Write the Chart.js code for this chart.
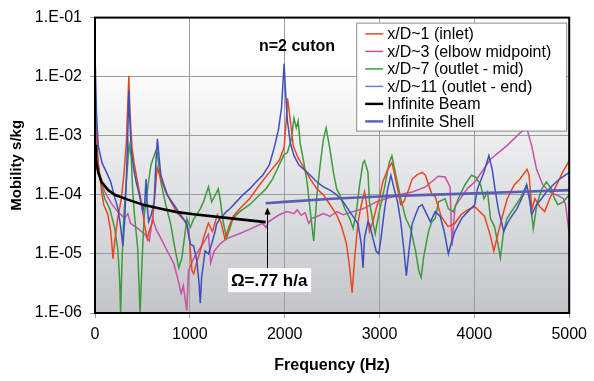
<!DOCTYPE html>
<html>
<head>
<meta charset="utf-8">
<script src="https://cdn.jsdelivr.net/npm/chart.js@4.4.1/dist/chart.umd.min.js"></script>
<style>
  html, body { margin: 0; padding: 0; background: #fff; }
  #wrap { width: 594px; height: 381px; }
</style>
</head>
<body>
<div id="wrap"><canvas id="c" width="594" height="381"></canvas></div>
<script>
// Fonts / defaults
Chart.defaults.font.family = "'Liberation Sans', Arial, sans-serif";
Chart.defaults.color = '#000';

// Axes
const xTickValues = [0, 1000, 2000, 3000, 4000, 5000];
const xTickLabels = ['0', '1000', '2000', '3000', '4000', '5000'];
const yTickValues = [1e-6, 1e-5, 1e-4, 1e-3, 1e-2, 1e-1];
const yTickLabels = ['1.E-06', '1.E-05', '1.E-04', '1.E-03', '1.E-02', '1.E-01'];

// x/D~1 (inlet)
const freqInlet = [3,21,70,92,136,166,190,208,239,278,307,330,346,357,369,390,416,468,502,520,552,570,606,634,655,694,746,801,863,936,965,998,1022,1040,1071,1110,1144,1196,1238,1290,1331,1370,1414,1456,1526,1630,1734,1838,1942,1994,2018,2030,2059,2090,2139,2202,2270,2340,2408,2478,2548,2600,2652,2683,2711,2738,2774,2808,2842,2860,2894,2930,2964,2998,3034,3086,3130,3154,3190,3224,3256,3310,3344,3398,3450,3484,3518,3554,3588,3650,3723,3796,3858,3931,4004,4108,4170,4205,4243,4295,4347,4420,4482,4555,4576,4607,4638,4690,4742,4794,4867,4930,5000];
const mobInlet = [2.9e-3,5.2e-4,1.12e-4,6.8e-5,4.6e-5,2.4e-5,8.3e-6,1.65e-5,4.0e-5,8.6e-5,2.4e-4,7.6e-4,3.5e-3,1.04e-2,2.4e-3,6.3e-4,3.2e-4,1.12e-4,5.8e-5,3.2e-5,1.8e-5,2.4e-5,3.5e-5,1.12e-4,2.9e-4,1.85e-4,1.12e-4,7.6e-5,5.0e-5,3.8e-5,3.2e-5,1.65e-5,5.2e-6,4.6e-6,7.1e-6,1.12e-5,1.85e-5,3.3e-5,2.4e-5,4.6e-5,3.3e-5,1.8e-5,2.9e-5,4.3e-5,5.8e-5,8.6e-5,1.47e-4,2.4e-4,3.8e-4,6.3e-4,2.0e-3,4.3e-3,1.85e-3,6.8e-4,4.3e-4,2.9e-4,1.85e-4,1.26e-4,1.0e-4,6.8e-5,4.6e-5,2.9e-5,1.47e-5,6.3e-6,2.2e-6,8.6e-6,3.5e-5,6.8e-5,1.12e-4,7.6e-5,2.4e-5,3.5e-5,5.8e-5,8.6e-5,1.65e-4,2.7e-4,3.5e-4,2.4e-4,1.26e-4,6.8e-5,7.6e-5,1.26e-4,1.85e-4,2.2e-4,2.4e-4,2.15e-4,1.47e-4,1.0e-4,9.3e-5,4.3e-5,2.9e-5,3.3e-5,4.6e-5,5.6e-5,6.3e-5,4.3e-5,2.0e-5,1.12e-5,2.0e-5,4.3e-5,8.6e-5,1.47e-4,1.85e-4,2.7e-4,2.2e-4,5.6e-5,8.6e-5,6.3e-5,5.2e-5,8.6e-5,1.47e-4,2.4e-4,3.8e-4];

// x/D~3 (elbow midpoint)
const freqElbow = [5,21,52,104,174,239,312,346,374,450,520,572,606,645,694,762,832,884,908,931,968,986,1038,1110,1154,1196,1220,1258,1318,1383,1508,1630,1766,1802,1830,1942,2028,2098,2132,2174,2215,2254,2288,2340,2408,2478,2548,2618,2722,2826,2964,3068,3203,3346,3484,3619,3692,3744,3765,3796,3866,3931,4004,4170,4344,4482,4551,4604,4656,4722,4794,4867,4940,4962,5000];
const mobElbow = [1.65e-3,5.2e-4,1.85e-4,1.12e-4,7.1e-5,5.2e-5,4.0e-5,4.8e-5,3.3e-5,2.7e-5,2.2e-5,1.65e-5,4.0e-5,2.6e-5,1.85e-5,1.12e-5,6.8e-6,3.2e-6,2.15e-6,2.9e-6,1.1e-6,5.2e-6,8.3e-6,1.26e-5,1.65e-5,2.15e-5,7.1e-6,1.12e-5,1.47e-5,1.8e-5,2.15e-5,2.6e-5,3.3e-5,2.8e-5,3.5e-5,4.6e-5,5.2e-5,4.8e-5,5.6e-5,4.5e-5,5.0e-5,3.3e-5,4.0e-5,4.3e-5,4.8e-5,4.3e-5,5.2e-5,4.6e-5,5.2e-5,5.8e-5,7.6e-5,8.6e-5,1.0e-4,1.12e-4,1.36e-4,2.07e-4,2.0e-4,1.36e-4,1.36e-5,6.3e-5,9.3e-5,1.3e-4,1.65e-4,4.0e-4,6.8e-4,1.12e-3,1.36e-3,6.8e-4,2.7e-4,1.47e-4,1.12e-4,1.0e-4,8.6e-5,6.8e-5,2.2e-5];

// x/D~7 (outlet - mid)
const freqOutMid = [3,34,70,104,156,208,242,260,270,284,305,330,346,359,382,398,416,450,475,502,520,554,590,642,655,694,746,798,848,884,916,952,968,1004,1038,1110,1144,1196,1230,1269,1300,1324,1345,1386,1422,1456,1526,1630,1716,1802,1872,1942,1994,2028,2070,2098,2122,2142,2163,2202,2236,2270,2306,2340,2374,2408,2437,2478,2514,2548,2582,2634,2686,2722,2756,2790,2826,2842,2878,2894,2930,2954,2998,3050,3102,3130,3172,3224,3276,3328,3380,3414,3439,3464,3516,3552,3588,3622,3692,3726,3778,3830,3900,3970,4014,4066,4101,4139,4170,4212,4243,4274,4309,4344,4410,4482,4551,4586,4621,4659,4711,4760,4812,4846,4881,4937,5000];
const mobOutMid = [2.4e-3,3.2e-4,1.36e-4,8.6e-5,5.8e-5,2.7e-5,1.12e-5,3.5e-6,1.0e-6,6.8e-6,4.6e-5,1.65e-4,3.5e-4,7.1e-4,4.3e-4,1.12e-4,4.6e-5,1.26e-5,1.0e-6,1.26e-5,4.6e-5,1.26e-4,3.2e-4,5.6e-4,5.2e-4,1.65e-4,6.8e-5,3.2e-5,1.12e-5,5.8e-6,8.6e-6,2.4e-5,4.0e-5,2.8e-5,3.8e-5,5.8e-5,7.6e-5,1.36e-4,7.6e-5,1.0e-4,1.26e-4,7.6e-5,4.0e-5,1.85e-5,2.7e-5,4.0e-5,5.2e-5,6.8e-5,9.3e-5,1.26e-4,1.85e-4,3.2e-4,4.8e-4,5.2e-4,8.6e-4,2.0e-3,1.36e-3,1.78e-3,7.6e-4,3.5e-4,1.65e-4,5.2e-5,1.65e-5,1.0e-4,3.2e-4,8.6e-4,1.36e-3,5.8e-4,2.4e-4,1.26e-4,1.0e-4,5.8e-5,4.0e-5,2.7e-5,5.2e-5,1.47e-4,3.5e-4,3.8e-4,2.4e-4,7.6e-5,3.5e-5,2.2e-5,5.2e-5,1.26e-4,3.5e-4,4.6e-4,2.15e-4,8.6e-5,4.0e-5,2.7e-5,1.12e-5,5.2e-6,4.0e-6,8.6e-6,2.4e-5,3.5e-5,4.0e-5,7.6e-5,8.6e-5,5.8e-5,5.2e-5,8.6e-5,1.47e-4,2.15e-4,2.0e-4,1.47e-4,8.6e-5,1.12e-4,4.0e-5,2.9e-5,1.65e-5,8.6e-6,2.4e-5,4.0e-5,5.8e-5,8.6e-5,1.47e-4,8.6e-5,2.7e-5,6.8e-5,1.26e-4,1.65e-4,1.26e-4,8.6e-5,6.8e-5,7.6e-5,1.0e-4];

// x/D~11 (outlet - end)
const freqOutEnd = [3,16,34,73,122,166,198,242,270,294,312,330,346,357,369,382,406,434,468,502,525,538,551,565,593,624,642,658,694,762,832,902,970,1006,1040,1074,1095,1110,1124,1161,1196,1230,1266,1282,1318,1352,1386,1422,1490,1560,1630,1698,1768,1838,1890,1934,1966,1994,2010,2028,2059,2098,2150,2202,2270,2340,2408,2478,2548,2618,2686,2735,2774,2808,2826,2842,2878,2894,2930,2964,2992,3016,3050,3086,3120,3154,3190,3224,3258,3283,3310,3344,3380,3414,3450,3484,3536,3588,3640,3682,3726,3762,3796,3866,3931,4004,4032,4101,4153,4188,4222,4257,4292,4309,4344,4378,4448,4517,4551,4586,4604,4656,4708,4760,4829,4898,5000];
const mobOutEnd = [1.65e-2,2.4e-3,6.8e-4,3.5e-4,2.4e-4,1.65e-4,1.04e-4,5.8e-5,2.9e-5,1.36e-5,3.5e-5,1.65e-4,1.12e-3,5.8e-3,1.65e-3,5.8e-4,2.9e-4,1.65e-4,1.0e-4,5.2e-5,7.6e-5,1.85e-4,6.3e-5,3.5e-5,4.6e-5,7.6e-5,3.5e-4,8.9e-4,2.15e-4,1.0e-4,6.8e-5,4.6e-5,3.2e-5,1.47e-5,1.36e-5,7.6e-6,3.5e-6,1.47e-6,4.0e-6,1.12e-5,1.0e-5,1.47e-5,2.4e-5,3.2e-5,4.0e-5,4.5e-5,5.2e-5,5.8e-5,7.6e-5,1.0e-4,1.26e-4,1.65e-4,2.15e-4,3.2e-4,6.3e-4,1.26e-3,2.9e-3,1.65e-2,5.2e-3,1.85e-3,7.6e-4,4.6e-4,3.2e-4,2.7e-4,2.15e-4,1.65e-4,1.36e-4,1.2e-4,1.0e-4,7.6e-5,5.2e-5,4.0e-5,3.2e-5,1.47e-5,5.8e-6,1.85e-5,3.5e-5,3.2e-5,1.85e-5,1.12e-5,1.0e-5,1.85e-5,5.2e-5,1.26e-4,2.15e-4,1.26e-4,7.6e-5,3.5e-5,1.12e-5,4.3e-6,1.12e-5,3.2e-5,4.6e-5,6.3e-5,6.8e-5,5.2e-5,3.5e-5,5.2e-5,4.3e-5,2.4e-5,1.0e-5,1.65e-5,2.4e-5,4.0e-5,5.2e-5,6.8e-5,1.26e-4,2.4e-4,4.6e-4,2.7e-4,1.12e-4,5.2e-5,3.2e-5,2.4e-5,3.2e-5,4.0e-5,5.8e-5,1.0e-4,1.47e-4,7.6e-5,4.6e-5,6.8e-5,8.6e-5,1.12e-4,1.47e-4,1.85e-4,2.4e-4];

// Infinite Beam
const freqBeam = [3,10,34,70,138,208,346,520,694,866,1040,1435,1800];
const mobBeam = [7.0e-4,3.8e-4,2.4e-4,1.65e-4,1.2e-4,1.0e-4,8.3e-5,6.7e-5,5.8e-5,5.1e-5,4.7e-5,4.0e-5,3.45e-5];

// Infinite Shell
const freqShell = [1800,2000,2500,3000,3500,4000,4500,5000];
const mobShell = [7.2e-5,7.6e-5,8.6e-5,9.4e-5,1.0e-4,1.06e-4,1.13e-4,1.2e-4];

// Annotations (data units)
const cutonText = 'n=2 cuton';
const cutonAt = { x: 2130, y: 3.2e-2 };
const omegaText = '\u03A9=.77 h/a';
const omegaAt = { x: 1836, y: 3.6e-6 };
const arrowFreq = 1810;
const arrowFrom = 5.6e-6;
const arrowTo = 6.1e-5;

function pts(fs, ms) {
    if (fs.length !== ms.length) console.error('length mismatch', fs.length, ms.length);
    return fs.map((f, i) => ({ x: f, y: ms[i] }));
}

const datasets = [
    { label: 'x/D~1 (inlet)', data: pts(freqInlet, mobInlet), borderColor: '#e8471f', borderWidth: 1.5, order: 3 },
    { label: 'x/D~3 (elbow midpoint)', data: pts(freqElbow, mobElbow), borderColor: '#c851a8', borderWidth: 1.5, order: 5 },
    { label: 'x/D~7 (outlet - mid)', data: pts(freqOutMid, mobOutMid), borderColor: '#3c9a3f', borderWidth: 1.5, order: 4 },
    { label: 'x/D~11 (outlet - end)', data: pts(freqOutEnd, mobOutEnd), borderColor: '#3d4fc0', borderWidth: 1.5, order: 2, legendColor: '#6f7fd6' },
    { label: 'Infinite Beam', data: pts(freqBeam, mobBeam), borderColor: '#000000', borderWidth: 2.6, order: 0 },
    { label: 'Infinite Shell', data: pts(freqShell, mobShell), borderColor: '#5a5db3', borderWidth: 2.6, order: 1 }
];
datasets.forEach(d => { d.pointRadius = 0; d.tension = 0; d.fill = false; });

// Fundo em degradê + moldura
const framePlugin = {
    id: 'frame',
    beforeDraw(chart) {
        const { ctx, chartArea: a } = chart;
        ctx.save();
        ctx.fillStyle = '#fff';
        ctx.fillRect(0, 0, chart.width, chart.height);
        const g = ctx.createLinearGradient(0, a.top, 0, a.bottom);
        g.addColorStop(0, '#ffffff');
        g.addColorStop(0.15, '#ffffff');
        g.addColorStop(1, '#c3c5c8');
        ctx.fillStyle = g;
        ctx.fillRect(a.left, a.top, a.right - a.left, a.bottom - a.top);
        ctx.restore();
    },
    afterDatasetsDraw(chart) {
        const { ctx, chartArea: a } = chart;
        ctx.save();
        ctx.strokeStyle = '#000';
        ctx.lineWidth = 2;
        ctx.strokeRect(a.left, a.top, a.right - a.left, a.bottom - a.top);
        ctx.restore();
    }
};

// Legenda e anotações
const notesPlugin = {
    id: 'notes',
    afterDraw(chart) {
        const { ctx, chartArea: a, scales: { x, y } } = chart;
        ctx.save();

        // legend box
        const lw = 210, lh = 108;
        const lx = a.right - 3 - lw, ly = a.top + 5;
        ctx.fillStyle = '#fff';
        ctx.fillRect(lx, ly, lw, lh);
        ctx.strokeStyle = '#8a8a8a';
        ctx.lineWidth = 1;
        ctx.strokeRect(lx + 0.5, ly + 0.5, lw, lh);
        ctx.font = "16px 'Liberation Sans', Arial, sans-serif";
        ctx.textBaseline = 'middle';
        ctx.textAlign = 'left';
        chart.data.datasets.forEach((d, i) => {
            const ry = ly + 11.3 + i * 17.5;
            ctx.strokeStyle = d.legendColor || d.borderColor;
            ctx.lineWidth = d.borderWidth > 2 ? 2.4 : 1.5;
            ctx.beginPath();
            ctx.moveTo(lx + 9, ry);
            ctx.lineTo(lx + 27, ry);
            ctx.stroke();
            ctx.fillStyle = '#000';
            ctx.fillText(d.label, lx + 31, ry + 1);
        });

        // n=2 cuton
        ctx.font = "bold 16px 'Liberation Sans', Arial, sans-serif";
        ctx.textAlign = 'center';
        ctx.fillStyle = '#000';
        ctx.fillText(cutonText, x.getPixelForValue(cutonAt.x), y.getPixelForValue(cutonAt.y));

        // arrow
        const ax = Math.round(x.getPixelForValue(arrowFreq)) + 0.5;
        const ay0 = y.getPixelForValue(arrowFrom);
        const ay1 = y.getPixelForValue(arrowTo);
        ctx.strokeStyle = '#000';
        ctx.lineWidth = 1;
        ctx.beginPath();
        ctx.moveTo(ax, ay0);
        ctx.lineTo(ax, ay1 + 6);
        ctx.stroke();
        ctx.beginPath();
        ctx.moveTo(ax, ay1);
        ctx.lineTo(ax - 3, ay1 + 7);
        ctx.lineTo(ax + 3, ay1 + 7);
        ctx.closePath();
        ctx.fill();

        // omega box
        const ox = x.getPixelForValue(omegaAt.x), oy = y.getPixelForValue(omegaAt.y);
        ctx.fillStyle = '#fff';
        ctx.fillRect(ox - 41, oy - 12, 83, 24);
        ctx.fillStyle = '#000';
        ctx.font = "bold 17px 'Liberation Sans', Arial, sans-serif";
        ctx.fillText(omegaText, ox, oy + 1);

        ctx.restore();
    }
};

new Chart(document.getElementById('c'), {
    type: 'line',
    data: { datasets },
    options: {
        responsive: false,
        animation: false,
        layout: { padding: { left: 0, top: 13, right: 18, bottom: 0 } },
        plugins: { legend: { display: false }, tooltip: { enabled: false } },
        scales: {
            x: {
                type: 'linear',
                min: 0,
                max: 5000,
                afterBuildTicks: s => { s.ticks = xTickValues.map(v => ({ value: v })); },
                afterFit: s => { s.height = 68; },
                ticks: { font: { size: 16 }, padding: 7, maxRotation: 0, autoSkip: false, color: '#000', callback: (v, i) => xTickLabels[i] },
                grid: { color: '#9c9c9c', lineWidth: 1, tickLength: 5 },
                border: { display: false },
                title: { display: true, text: 'Frequency (Hz)', font: { size: 16, weight: 'bold' }, padding: { top: 0, bottom: 6 }, color: '#000' }
            },
            y: {
                type: 'logarithmic',
                min: 1e-6,
                max: 1e-1,
                afterBuildTicks: s => { s.ticks = yTickValues.map(v => ({ value: v })); },
                afterFit: s => { s.width = 95; },
                ticks: { font: { size: 16 }, padding: 8, autoSkip: false, color: '#000', callback: (v, i) => yTickLabels[i] },
                grid: { color: '#9c9c9c', lineWidth: 1, tickLength: 5 },
                border: { display: false },
                title: { display: true, text: 'Mobility s/kg', font: { size: 15, weight: 'bold' }, padding: { top: 8, bottom: 0 }, color: '#000' }
            }
        }
    },
    plugins: [framePlugin, notesPlugin]
});
</script>
</body>
</html>
